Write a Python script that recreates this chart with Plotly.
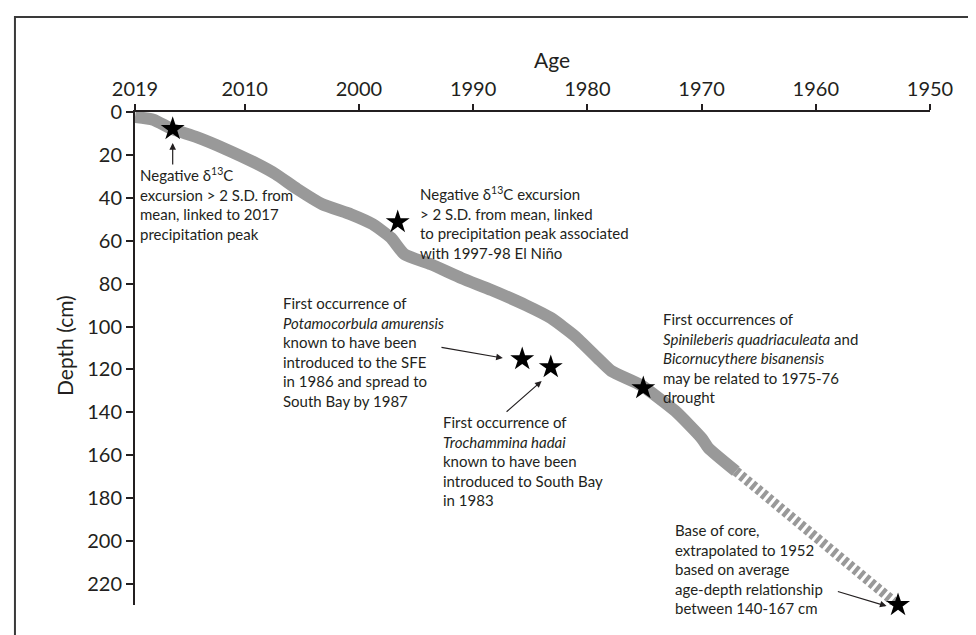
import plotly.graph_objects as go

# ---- data ----
core_year = [2019.6, 2018.0, 2016.4, 2014.2, 2011.7, 2008.9, 2007.3, 2005.4, 2003.2,
             2000.7, 1998.8, 1997.2, 1996.0, 1993.7, 1991.0, 1988.4, 1985.4, 1983.2,
             1981.1, 1979.1, 1977.9, 1975.3, 1972.3, 1970.0, 1969.4, 1967.0]
core_depth = [2.3, 3.6, 7.8, 11.7, 17.2, 24.2, 28.9, 35.9, 43.0,
              47.7, 52.3, 58.6, 66.4, 71.0, 77.5, 83.0, 90.0, 96.0,
              104.4, 114.7, 120.7, 127.3, 139.4, 152.0, 156.6, 167.4]

extrap_year = [1967.0, 1952.8]
extrap_depth = [167.4, 229.8]

event_year = [2016.3, 1996.6, 1985.7, 1983.2, 1975.1, 1952.8]
event_depth = [7.9, 51.3, 115.2, 118.9, 128.7, 229.8]

x_tick_vals = [2019.6, 2010, 2000, 1990, 1980, 1970, 1960, 1950]
x_tick_text = ["2019", "2010", "2000", "1990", "1980", "1970", "1960", "1950"]
y_tick_vals = [0, 20, 40, 60, 80, 100, 120, 140, 160, 180, 200, 220]

FONT = "Lato"
INK = "#231f20"
GRAY = "#999999"

fig = go.Figure()

fig.add_trace(go.Scatter(
    x=core_year, y=core_depth, mode="lines",
    line=dict(color=GRAY, width=12, shape="spline", smoothing=0.5),
    hoverinfo="skip", showlegend=False))

fig.add_trace(go.Scatter(
    x=extrap_year, y=extrap_depth, mode="lines",
    line=dict(color=GRAY, width=10, dash="4px,3px"), hoverinfo="skip", showlegend=False))

fig.add_trace(go.Scatter(
    x=event_year, y=event_depth, mode="markers",
    marker=dict(symbol="star", size=18, color="black", line=dict(width=0)),
    cliponaxis=False, showlegend=False))

texts = [
    ("Negative δ<sup>13</sup>C<br>excursion > 2 S.D. from<br>mean, linked to 2017<br>precipitation peak",
     2019.1, 43.0),
    ("Negative δ<sup>13</sup>C excursion<br>> 2 S.D. from mean, linked<br>to precipitation peak associated<br>with 1997-98 El Niño",
     1994.55, 51.7),
    ("First occurrence of<br><i>Potamocorbula amurensis</i><br>known to have been<br>introduced to the SFE<br>in 1986 and spread to<br>South Bay by 1987",
     2006.55, 112.1),
    ("First occurrence of<br><i>Trochammina hadai</i><br>known to have been<br>introduced to South Bay<br>in 1983",
     1992.54, 162.7),
    ("First occurrences of<br><i>Spinileberis quadriaculeata</i> and<br><i>Bicornucythere bisanensis</i><br>may be related to 1975-76<br>drought",
     1973.27, 114.7),
    ("Base of core,<br>extrapolated to 1952<br>based on average<br>age-depth relationship<br>between 140-167 cm",
     1972.22, 212.8),
]
annotations = []
for t, x, y in texts:
    annotations.append(dict(text=t, x=x, y=y, xref="x", yref="y", xanchor="left",
                            yanchor="middle", align="left", showarrow=False, xshift=-3,
                            font=dict(family=FONT, size=15, color=INK)))

arrows = [
    (2016.3, 14.5, 2016.3, 25.2),
    (1987.4, 114.7, 1992.9, 109.6),
    (1984.0, 125.4, 1987.2, 140.3),
    (1953.8, 230.3, 1958.2, 223.3),
]
for hx, hy, tx, ty in arrows:
    annotations.append(dict(text="", x=hx, y=hy, ax=tx, ay=ty, xref="x", yref="y",
                            axref="x", ayref="y", showarrow=True, arrowhead=2,
                            arrowsize=1.1, arrowwidth=1.2, arrowcolor=INK, standoff=0))

annotations.append(dict(text="Age", x=0.5247, y=1.1055, xref="paper", yref="paper",
                        xanchor="center", yanchor="middle", showarrow=False,
                        font=dict(family=FONT, size=21, color=INK)))
annotations.append(dict(text="Depth (cm)", x=-0.0881, y=0.5274, xref="paper", yref="paper",
                        xanchor="center", yanchor="middle", showarrow=False, textangle=-90,
                        font=dict(family=FONT, size=21, color=INK)))

fig.update_layout(
    width=976, height=635,
    margin=dict(l=127, r=54, t=104, b=38),
    paper_bgcolor="white", plot_bgcolor="white",
    annotations=annotations,
    shapes=[dict(type="rect", xref="paper", yref="paper", x0=-0.151, x1=1.3,
                 y0=-0.3, y1=1.1927, line=dict(color="#3a3a3a", width=2),
                 fillcolor="rgba(0,0,0,0)", layer="below")],
    xaxis=dict(side="top", range=[2019.6, 1950], tickvals=x_tick_vals, ticktext=x_tick_text,
               showgrid=False, zeroline=False, showline=True, linecolor=INK, linewidth=2,
               ticks="outside", ticklen=6, tickwidth=2, tickcolor=INK,
               tickfont=dict(family=FONT, size=20, color=INK)),
    yaxis=dict(range=[229.8, 0], tickvals=y_tick_vals,
               showgrid=False, zeroline=False, showline=True, linecolor=INK, linewidth=2,
               ticks="outside", ticklen=7, tickwidth=2, tickcolor=INK,
               tickfont=dict(family=FONT, size=20, color=INK)),
)

fig.write_html("out.html")
